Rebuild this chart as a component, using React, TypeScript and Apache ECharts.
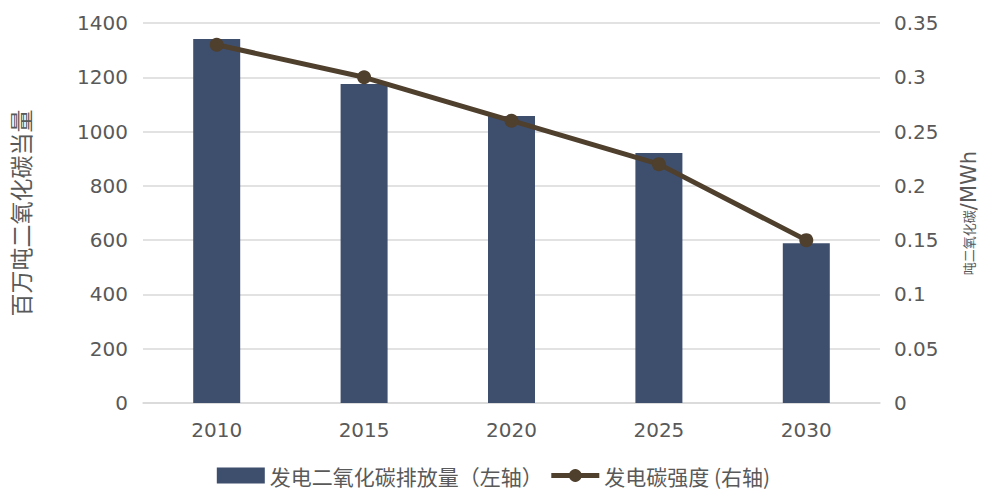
import React, { useEffect, useRef } from "react";
import * as echarts from "echarts";

const categories = ["2010", "2015", "2020", "2025", "2030"];
const emissions = [1341, 1175, 1057, 921, 589];
const intensity = [0.33, 0.3, 0.26, 0.22, 0.15];
const barName = "发电二氧化碳排放量（左轴）";
const lineName = "发电碳强度 (右轴)";

const FONT = "'DejaVu Sans', Verdana, 'Noto Sans CJK SC', sans-serif";
const CJK = "'Noto Sans CJK SC', sans-serif";
const GRAY = "#595959";

export default function App() {
  const ref = useRef<HTMLDivElement>(null);
  useEffect(() => {
    const chart = echarts.init(ref.current!, null, { renderer: "svg" });
    chart.setOption({
      animation: false,
      grid: { left: 143, right: 104, top: 23, bottom: 89 },
      legend: {
        left: "center",
        bottom: 1,
        itemGap: 6,
        itemWidth: 48,
        itemHeight: 16,
        textStyle: { fontSize: 21, color: GRAY, fontFamily: CJK },
        data: [
          { name: barName, icon: "rect" },
          { name: lineName, lineStyle: { width: 5 }, itemStyle: { color: "#4F3F2D" } },
        ],
      },
      xAxis: {
        type: "category",
        data: categories,
        axisTick: { show: false },
        axisLine: { lineStyle: { color: "#d9d9d9", width: 1.5 } },
        axisLabel: { color: GRAY, fontSize: 20, fontFamily: FONT, margin: 17 },
      },
      yAxis: [
        {
          type: "value",
          min: 0,
          max: 1400,
          interval: 200,
          name: "百万吨二氧化碳当量",
          nameLocation: "middle",
          nameRotate: 90,
          nameGap: 112,
          nameTextStyle: { fontSize: 23, color: GRAY, fontFamily: CJK },
          axisLabel: { color: GRAY, fontSize: 20, fontFamily: FONT, margin: 15, formatter: (v: number) => String(v) },
          splitLine: { lineStyle: { color: "#d9d9d9", width: 1.5 } },
          axisLine: { show: false },
          axisTick: { show: false },
        },
        {
          type: "value",
          min: 0,
          max: 0.35,
          interval: 0.05,
          name: "{s|吨二氧化碳}{b|/MWh}",
          nameLocation: "middle",
          nameRotate: 90,
          nameGap: 78,
          nameTextStyle: {
            color: GRAY,
            rich: {
              s: { fontSize: 13, color: GRAY, fontFamily: CJK },
              b: { fontSize: 21, color: GRAY, fontFamily: FONT },
            },
          },
          axisLabel: { color: GRAY, fontSize: 20, fontFamily: FONT, margin: 14 },
          splitLine: { show: false },
          axisLine: { show: false },
          axisTick: { show: false },
        },
      ],
      series: [
        {
          name: barName,
          type: "bar",
          data: emissions,
          barWidth: 47,
          itemStyle: { color: "#3E4F6E" },
          yAxisIndex: 0,
        },
        {
          name: lineName,
          type: "line",
          data: intensity,
          yAxisIndex: 1,
          symbol: "circle",
          symbolSize: 14,
          lineStyle: { color: "#4F3F2D", width: 5 },
          itemStyle: { color: "#4F3F2D" },
        },
      ],
    });
    return () => chart.dispose();
  }, []);
  return <div ref={ref} style={{ width: 987, height: 492, position: "absolute", left: 0, top: 0 }} />;
}
